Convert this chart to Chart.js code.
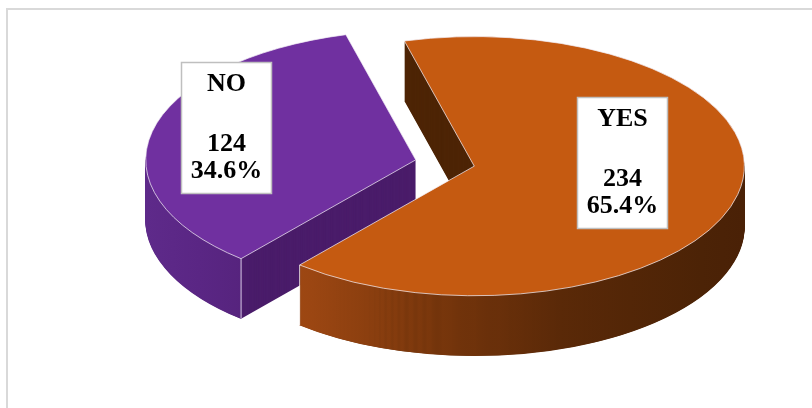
<!DOCTYPE html>
<html>
<head>
<meta charset="utf-8">
<script src="https://cdn.jsdelivr.net/npm/chart.js@4"></script>
<style>
  html, body { margin: 0; padding: 0; background: #fff; overflow: hidden; }
  #frame { position: absolute; left: 6px; top: 8px; width: 900px; height: 500px; border: 2px solid #d9d9d9; }
  #wrap { position: absolute; left: 0; top: 0; width: 812px; height: 408px; }
</style>
</head>
<body>
<div id="frame"></div>
<div id="wrap"><canvas id="pieChart"></canvas></div>
<script>
// data
const labels = ['YES', 'NO'];
const counts = [234, 124];

// colours: top face, cut face, outer wall gradient stops
const topColors = ['#C55A11', '#7030A0'];
const cutColors = ['#4d2405', '#4a1c6a'];
const wallStops = [
  [[0, '#a84e14'], [0.2, '#9b4612'], [0.42, '#7a370c'], [0.66, '#5a2908'], [0.92, '#4c2306'], [1, '#4a2106']],
  [[0, '#5e2a8a'], [0.1, '#5a2684'], [0.2, '#55237c'], [1, '#4c1e6e']]
];

// 3d look
const TILT = 0.48;     // vertical squash of the pie
const DEPTH = 60;      // thickness in px
const EXPLODE = 30;    // how far slices are pulled apart
const labelFrac = [0.56, 0.72];
const labelNudge = [-20, -12];

const total = counts.reduce((a, b) => a + b, 0);

const pie3d = {
  id: 'pie3d',
  beforeDatasetsDraw(chart) {
    const ctx = chart.ctx;
    const arcs = chart.getDatasetMeta(0).data;

    // back slice first (NO), then YES in front
    [1, 0].forEach(i => {
      const arc = arcs[i];
      const r = arc.outerRadius;
      const mid = (arc.startAngle + arc.endAngle) / 2;
      const ex = Math.cos(mid) * EXPLODE;
      const ey = Math.sin(mid) * EXPLODE;

      const place = (drop) => {
        ctx.translate(0, drop);
        ctx.translate(arc.x, arc.y);
        ctx.scale(1, TILT);
        ctx.translate(-arc.x, -arc.y);
        ctx.translate(ex, ey);
      };
      const withOptions = (opts) => {
        const a = Object.create(arc);
        a.options = Object.assign({}, arc.options, opts);
        return a;
      };

      // solid body (shows as the cut faces)
      const body = withOptions({ backgroundColor: cutColors[i], borderWidth: 0 });
      for (let d = DEPTH; d > 0; d--) {
        ctx.save(); place(d); body.draw(ctx); ctx.restore();
      }

      // outer curved wall, only the part facing the viewer
      const norm = (a) => ((a % (2 * Math.PI)) + 2 * Math.PI) % (2 * Math.PI);
      const a0 = arc.startAngle, a1 = arc.endAngle;
      const base = a0 - norm(a0);
      const spans = [
        [Math.max(a0, base), Math.min(a1, base + Math.PI)],
        [Math.max(a0, base + 2 * Math.PI), Math.min(a1, base + 3 * Math.PI)]
      ].filter(s => s[1] > s[0]);
      const g = ctx.createLinearGradient(arc.x - r, 0, arc.x + r, 0);
      wallStops[i].forEach(s => g.addColorStop(s[0], s[1]));
      for (let d = DEPTH; d >= 0; d--) {
        spans.forEach(s => {
          ctx.save();
          place(d);
          ctx.beginPath();
          ctx.arc(arc.x, arc.y, r - 1, s[0], s[1]);
          ctx.lineWidth = 3;
          ctx.strokeStyle = g;
          ctx.stroke();
          ctx.restore();
        });
      }

      // light vertical edges on the front corners
      [arc.startAngle, arc.endAngle].forEach(ang => {
        if (Math.sin(ang) <= 0) return;
        const px = arc.x + ex + Math.cos(ang) * r;
        const py = arc.y + (ey + Math.sin(ang) * r) * TILT;
        ctx.save();
        ctx.strokeStyle = 'rgba(255,255,255,0.75)';
        ctx.lineWidth = 1;
        ctx.beginPath();
        ctx.moveTo(px, py);
        ctx.lineTo(px, py + DEPTH);
        ctx.stroke();
        ctx.restore();
      });

      // top face
      ctx.save(); place(0); arc.draw(ctx); ctx.restore();
    });
    return false;
  },
  afterDraw(chart) {
    const ctx = chart.ctx;
    const arcs = chart.getDatasetMeta(0).data;
    arcs.forEach((arc, i) => {
      const mid = (arc.startAngle + arc.endAngle) / 2;
      const dist = EXPLODE + labelFrac[i] * arc.outerRadius;
      const cx = arc.x + Math.cos(mid) * dist;
      const cy = arc.y + Math.sin(mid) * dist * TILT + labelNudge[i];
      const lines = [
        labels[i],
        String(counts[i]),
        (counts[i] / total * 100).toFixed(1) + '%'
      ];
      const offs = [22, 82, 109];
      const w = 90, h = 131;
      const left = Math.round(cx - w / 2) + 0.5;
      const top = Math.round(cy - h / 2) + 0.5;
      ctx.save();
      ctx.fillStyle = '#ffffff';
      ctx.fillRect(left, top, w, h);
      ctx.strokeStyle = '#bfbfbf';
      ctx.lineWidth = 1.5;
      ctx.strokeRect(left, top, w, h);
      ctx.fillStyle = '#000000';
      ctx.font = 'bold 26px "Liberation Serif", "Times New Roman", serif';
      ctx.textAlign = 'center';
      ctx.textBaseline = 'middle';
      lines.forEach((t, k) => ctx.fillText(t, left + w / 2, top + offs[k]));
      ctx.restore();
    });
  }
};

new Chart(document.getElementById('pieChart'), {
  type: 'pie',
  data: {
    labels: labels,
    datasets: [{
      data: counts,
      backgroundColor: topColors,
      borderColor: '#f3eef6',
      borderWidth: 1
    }]
  },
  options: {
    responsive: true,
    maintainAspectRatio: false,
    animation: false,
    radius: 270,
    rotation: -15,
    layout: { padding: { left: 78, bottom: 82 } },
    plugins: {
      legend: { display: false },
      tooltip: { enabled: false }
    }
  },
  plugins: [pie3d]
});
</script>
</body>
</html>
